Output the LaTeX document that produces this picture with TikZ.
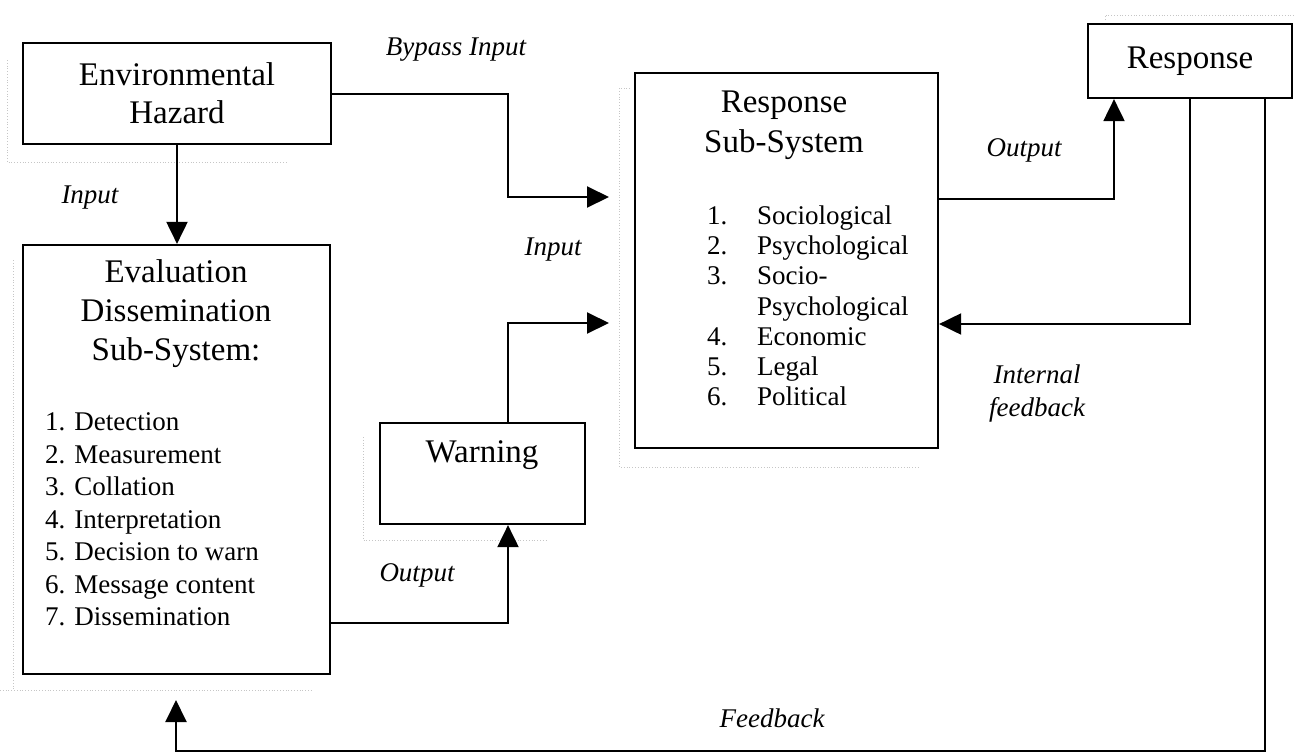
\documentclass[tikz,border=0pt]{standalone}
\usepackage{fontspec}
\setmainfont{Liberation Serif}
\usetikzlibrary{arrows.meta,calc}
\newcommand\mybig{\fontsize{33}{39}\selectfont}
\newcommand\mylist{\fontsize{27}{32.5}\selectfont}
\newcommand\mylab{\fontsize{27}{33}\selectfont\itshape}
\begin{document}
\begin{tikzpicture}[x=1pt,y=-1pt,
  box/.style={draw=black,line width=2.2pt,inner sep=0pt,rectangle},
  txt/.style={inner sep=0pt},
  lab/.style={inner sep=0pt,font=\mylab},
  arr/.style={line width=2pt,-{Triangle[length=22pt,width=21pt]}},
  ghost/.style={draw=gray!45,dotted,line width=0.8pt}]
\useasboundingbox (0,0) rectangle (1295,753);
% faint text-box outlines
\draw[ghost] (7,60) -- (7,162) -- (287,162);
\draw[ghost] (13,260) -- (13,690) (0,690) -- (313,690);
\draw[ghost] (363,437) -- (363,540) -- (548,540);
\draw[ghost] (630,88) -- (619,88) -- (619,467) -- (918,467);
\draw[ghost] (1105,20) -- (1105,15) -- (1295,15);
% boxes
\node[box,minimum width=308pt,minimum height=101pt,align=center,font=\fontsize{33}{38}\selectfont] (env) at (177,93.5) {Environmental\\Hazard};
\node[box,minimum width=307pt,minimum height=429pt] (eval) at (176.5,459.5) {};
\node[box,minimum width=205pt,minimum height=101pt] (warn) at (482.5,473.5) {};
\node[box,minimum width=303pt,minimum height=375pt] (rss) at (786.5,260.5) {};
\node[box,minimum width=204pt,minimum height=74pt,font=\mybig] (resp) at (1190,61) {Response};
% texts in boxes
\node[txt,font=\mybig,align=center] (evt) at (176,314) {Evaluation\\Dissemination\\Sub-System:};
\node[txt,font=\mylist,align=left,anchor=west] (evl) at (45,519.5) {1. Detection\\2. Measurement\\3. Collation\\4. Interpretation\\5. Decision to warn\\6. Message content\\7. Dissemination};
\node[txt,font=\mybig] (wt) at (482,455) {Warning};
\node[txt,font=\fontsize{33}{40}\selectfont,align=center] (rst) at (784,125) {Response\\Sub-System};
\node[txt,font=\fontsize{27}{30.3}\selectfont,anchor=west] (rsl) at (707,309) {\begin{tabular}{@{}p{50pt}@{}l@{}}
1. & Sociological\\
2. & Psychological\\
3. & Socio-\\
   & Psychological\\
4. & Economic\\
5. & Legal\\
6. & Political
\end{tabular}};
% coordinates
\coordinate (jx) at (508,0);
\coordinate (in1) at (609,197);
\coordinate (in2) at (609,323);
\coordinate (eo) at (0,623);
\coordinate (ro) at (1114,199);
\coordinate (fi) at (1190,324);
\coordinate (fb) at (1265,751);
\coordinate (fbt) at (176,700);
% connectors
\draw[arr] (env.south) -- (env.south |- eval.north);
\draw[arr] (env.east) -| (jx |- in1) -- (in1);
\draw[arr] (warn.north -| jx) |- (in2);
\draw[arr] (eval.east |- eo) -| (warn.south -| jx);
\draw[arr] (rss.east |- ro) -| (resp.south -| ro);
\draw[arr] (resp.south -| fi) |- (rss.east |- fi);
\draw[arr] (resp.south -| fb) |- (fbt |- fb) -- (fbt);
% labels
\node[lab] (l1) at (90,198) {Input};
\node[lab] (l2) at (456,50) {Bypass Input};
\node[lab] (l3) at (553,250) {Input};
\node[lab] (l4) at (417,575) {Output};
\node[lab] (l5) at (1024,150) {Output};
\node[lab,align=center] (l6) at (1037,393) {Internal\\feedback};
\node[lab] (l7) at (772,718) {Feedback};
\end{tikzpicture}
\end{document}
